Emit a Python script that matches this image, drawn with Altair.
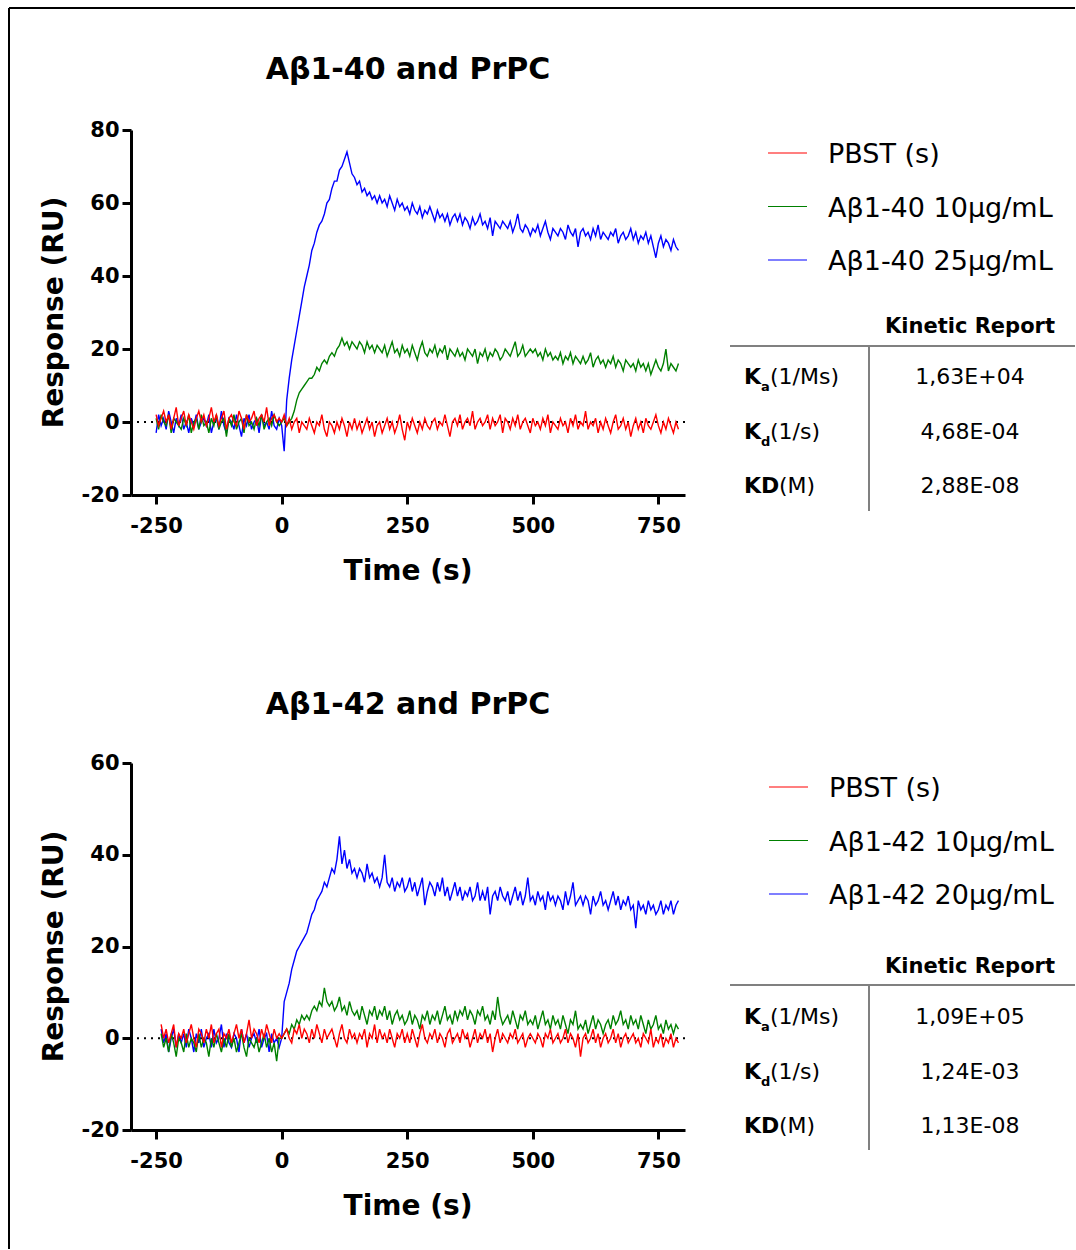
import altair as alt
import pandas as pd

# ---------------- data ----------------
T1 = list(range(-250, 791, 5))   # panel 1 sampling times (s)
T2 = list(range(-240, 791, 5))   # panel 2 sampling times (s)

P1_BLUE = [
    -3, 2, -1, 1, -2, 3, 0, -3, 1, -1,
    2, -2, 0, -3, 1, -1, 2, -2, 0, 1,
    -1, 2, -3, 0, 1, -2, 3, -1, -3, 1,
    0, -2, 2, -1, -4, 1, -1, 2, -2, 0,
    1, -3, 2, -1, 0, -2, 3, -1, -2, 1,
    -1, -8, 6, 12, 17, 21, 25, 29, 33, 37,
    40, 43, 47, 49, 52, 54, 55, 57, 60, 61,
    64, 66, 66, 69, 70, 72, 74, 71, 68, 67,
    65, 66, 63, 64, 62, 63, 61, 62, 60, 62,
    60, 61, 59, 62, 60, 58, 61, 59, 60, 58,
    59, 57, 60, 58, 57, 59, 56, 58, 57, 59,
    57, 55, 58, 56, 57, 55, 57, 54, 56, 57,
    55, 57, 54, 56, 55, 53, 56, 54, 55, 57,
    54, 55, 53, 56, 51, 55, 54, 53, 55, 54,
    53, 55, 52, 54, 57, 53, 52, 54, 53, 51,
    53, 52, 54, 51, 53, 55, 52, 50, 53, 52,
    51, 53, 52, 50, 54, 52, 51, 53, 48, 52,
    53, 51, 52, 50, 53, 51, 54, 50, 52, 51,
    50, 52, 51, 53, 49, 51, 52, 50, 51, 53,
    50, 52, 49, 51, 50, 52, 49, 51, 48, 45,
    49, 51, 48, 50, 49, 47, 50, 48, 47,
]
P1_GREEN = [
    1, -2, 2, 0, -1, 2, -3, 1, 0, -1,
    -2, 1, -1, 2, -3, 0, 1, -2, 2, -1,
    0, -3, 1, -1, 2, -2, 0, 1, -4, 1,
    -1, 2, -2, 0, 1, -3, 2, -1, 0, -2,
    1, -1, 2, -2, 0, 1, -1, 2, 0, -1,
    0, 1, -1, 0, 1, 3, 6, 8, 9, 10,
    11, 12, 12, 13, 15, 14, 16, 17, 16, 18,
    19, 18, 20, 21, 23, 21, 22, 20, 22, 21,
    20, 22, 21, 19, 22, 20, 21, 19, 21, 20,
    19, 21, 18, 20, 22, 19, 20, 18, 21, 19,
    20, 18, 21, 19, 17, 20, 22, 19, 18, 20,
    19, 21, 18, 20, 19, 21, 17, 20, 19, 18,
    20, 18, 19, 17, 20, 19, 18, 20, 16, 19,
    18, 20, 17, 19, 18, 20, 19, 17, 18, 20,
    19, 18, 20, 22, 18, 19, 21, 18, 19, 20,
    19, 20, 18, 19, 17, 20, 18, 19, 17, 18,
    17, 19, 16, 18, 17, 19, 16, 18, 17, 16,
    18, 16, 17, 19, 15, 17, 18, 16, 17, 15,
    17, 16, 18, 15, 17, 16, 14, 17, 16, 15,
    16, 14, 17, 15, 16, 14, 16, 13, 15, 17,
    15, 14, 16, 20, 14, 16, 15, 14, 16,
]
P1_RED = [
    2, -1, 1, 3, 0, 2, -2, 1, 4, -1,
    1, 3, -1, 2, 0, -2, 1, 3, 0, 2,
    -1, 1, 4, 0, 2, -1, 1, 3, -2, 1,
    2, 0, -1, 3, 1, -2, 2, 0, 1, 3,
    -1, 1, 2, 0, 4, -1, 1, 2, 0, 1,
    0, 2, -1, 1, -2, 0, 1, -3, 0, -1,
    -2, 1, -1, -3, 0, -1, 2, -2, -4, 0,
    -1, -3, 0, -2, 1, -1, -4, 0, -2, 1,
    -2, 0, -3, -1, 1, -2, 0, -4, -1, 0,
    -3, -1, 1, -2, 0, -3, -1, 2, -2, -5,
    0, -2, 1, -1, -3, 0, -2, 1, -1, -2,
    0, 1, -2, 0, -1, 2, -1, -4, 0, 1,
    -1, 2, -2, 0, 1, -1, 3, -2, 0, 1,
    -1, 0, 2, -2, 1, -1, 0, 2, -3, 1,
    0, -2, 1, -1, 2, -2, 0, 1, -1, -3,
    1, -1, 0, -2, 1, -1, 2, -3, 0, -1,
    -2, 1, -1, 0, -3, 1, -1, 2, -2, 0,
    -1, 3, -2, 0, -1, 1, -3, 0, -2, 1,
    -1, -3, 0, 2, -2, -1, 1, -2, 0, -4,
    -1, 1, -2, 0, -3, 1, -1, -2, 0, 2,
    -1, -3, 0, -2, 1, -1, -3, 0, -2,
]

P2_BLUE = [
    2, -1, 1, -3, 0, 2, -2, 1,
    -1, 1, -2, 2, 0, -3, 1, -1, 2, -2,
    0, 1, -2, 2, -1, 0, 3, -2, 1, -1,
    -2, 1, 0, -3, 2, -1, 1, -2, 0, 1,
    -1, 2, -2, 0, 1, -3, 1, -1, 0, -2,
    0, 8, 10, 12, 15, 17, 19, 20, 21, 22,
    23, 25, 27, 28, 30, 31, 32, 34, 33, 35,
    37, 36, 39, 44, 38, 41, 37, 39, 36, 37,
    35, 37, 36, 34, 38, 35, 36, 34, 35, 33,
    35, 40, 34, 33, 35, 32, 34, 33, 35, 32,
    33, 35, 32, 34, 31, 33, 35, 29, 32, 34,
    33, 31, 34, 32, 35, 31, 33, 30, 32, 34,
    31, 33, 30, 32, 31, 33, 30, 31, 34, 30,
    32, 30, 33, 27, 31, 32, 30, 33, 31, 30,
    32, 29, 31, 33, 30, 32, 29, 31, 35, 30,
    31, 29, 32, 30, 31, 28, 32, 30, 31, 29,
    31, 30, 28, 32, 29, 31, 34, 29, 30, 31,
    29, 31, 30, 27, 31, 29, 30, 32, 29, 30,
    28, 30, 32, 29, 31, 28, 30, 29, 31, 28,
    29, 24, 30, 28, 29, 27, 30, 28, 29, 27,
    28, 30, 27, 29, 28, 30, 27, 29, 30,
]
P2_GREEN = [
    1, -2, 0, -3, 1, -1, -4, 0,
    -1, -3, 1, -2, 0, -1, -3, 1, -2, 0,
    -1, -4, 0, -2, 1, -1, -3, 0, -2, 1,
    -2, 0, -3, -1, 1, -2, -4, 0, -1, -2,
    0, -3, -1, 1, -2, 0, -3, -1, -5, 0,
    0, 1, 2, 1, 3, 2, 4, 3, 5, 4,
    5, 4, 6, 7, 6, 8, 7, 11, 8, 7,
    8, 6, 7, 9, 6, 7, 5, 8, 6, 5,
    6, 4, 7, 5, 3, 6, 5, 7, 4, 6,
    5, 7, 4, 6, 3, 5, 6, 4, 5, 3,
    4, 6, 3, 5, 4, 2, 5, 4, 6, 3,
    5, 4, 6, 3, 5, 7, 4, 5, 3, 6,
    4, 6, 5, 7, 4, 6, 5, 3, 6, 5,
    7, 4, 5, 3, 6, 4, 9, 5, 3, 4,
    5, 3, 6, 4, 2, 5, 4, 6, 3, 4,
    3, 5, 2, 4, 6, 3, 4, 2, 5, 3,
    4, 2, 5, 3, 1, 4, 3, 6, 2, 3,
    2, 4, 1, 3, 5, 2, 4, 3, 1, 3,
    4, 2, 5, 3, 4, 6, 3, 4, 2, 5,
    3, 4, 2, 5, 3, 1, 4, 2, 3, 5,
    2, 3, 1, 4, 2, 3, 1, 3, 2,
]
P2_RED = [
    3, 0, 2, -1, 1, 3, -2, 1,
    0, 2, -1, 1, 3, 0, -2, 2, 1, -1,
    2, 0, 3, -1, 1, 2, -2, 1, 0, 2,
    -1, 1, 3, 0, 2, -1, 1, 4, 0, 2,
    1, -1, 2, 0, 3, 1, -1, 2, 0, 1,
    0, 1, 2, 0, -1, 2, 1, 3, 0, 2,
    1, -1, 2, 0, 3, 1, -1, 2, 0, 1,
    2, 0, -2, 1, 3, 0, -1, 2, 0, 1,
    -1, 1, 0, 2, -2, 1, 0, 3, -1, 2,
    0, 1, -1, 2, 0, -2, 1, 0, 2, -1,
    1, -1, 2, 0, -2, 1, 3, 0, -1, 1,
    0, 2, -1, 1, 0, -2, 1, 2, -1, 0,
    1, -1, 2, 0, 1, -2, 0, 2, -1, 1,
    0, 2, -1, 1, -3, 0, 2, -1, 1, 0,
    -1, 1, 0, 2, -1, 0, 1, -2, 0, 1,
    0, -1, 1, 0, -2, 1, 0, 2, -1, 0,
    1, -1, 0, 2, -1, 1, 0, -2, 1, -4,
    0, 1, -1, 0, 2, -1, 1, -2, 0, 1,
    -1, 0, 2, -1, 1, -2, 0, 1, -1, 0,
    1, -1, 0, -2, 1, 0, -1, 2, -2, 0,
    -1, 1, -2, 0, -1, 1, -2, 0, -1,
]

TITLES = ["A\u03b21-40 and PrPC", "A\u03b21-42 and PrPC"]
X_TITLE = "Time (s)"
Y_TITLE = "Response (RU)"
LEG1 = ["PBST (s)", "A\u03b21-40 10\u00b5g/mL", "A\u03b21-40 25\u00b5g/mL"]
LEG2 = ["PBST (s)", "A\u03b21-42 10\u00b5g/mL", "A\u03b21-42 20\u00b5g/mL"]
KR_HEADER = "Kinetic Report"
ROW_MAIN = ["K", "K", "KD"]
ROW_SUB = ["a", "d", ""]
ROW_UNIT = ["(1/Ms)", "(1/s)", "(M)"]
VALS1 = ["1,63E+04", "4,68E-04", "2,88E-08"]
VALS2 = ["1,09E+05", "1,24E-03", "1,13E-08"]
X_TICKS = [-250, 0, 250, 500, 750]
Y_TICKS1 = [-20, 0, 20, 40, 60, 80]
Y_TICKS2 = [-20, 0, 20, 40, 60]

# ---------------- styling ----------------
RED, GREEN, BLUE = "#ff0000", "#008000", "#0000ff"
W = 554
ONE = pd.DataFrame({"k": [0]})
BOLD_FONT = "DejaVu Sans"
REG_FONT = "DejaVu Sans"
TICK_FONT = "DejaVu Sans"


def txt(s, x, y, size, weight="normal", align="left", angle=0, font=REG_FONT):
    kw = dict(text=s, font=font, fontSize=size, fontWeight=weight,
              align=align, baseline="alphabetic", color="black")
    if angle:
        kw["angle"] = angle
    return alt.Chart(ONE).mark_text(**kw).encode(x=alt.value(x), y=alt.value(y))


def rule(x, y, x2, y2, color, width):
    return alt.Chart(ONE).mark_rule(color=color, strokeWidth=width).encode(
        x=alt.value(x), y=alt.value(y), x2=alt.value(x2), y2=alt.value(y2))


def series_df(ts, vs):
    return pd.DataFrame({"t": ts[:len(vs)], "v": vs[:len(ts)]})


def axis(values, pad):
    return alt.Axis(values=values, title=None, labelPadding=pad,
                    labelExpr="'' + datum.value", labelFont=TICK_FONT,
                    labelFontSize=21, labelFontWeight="bold", labelColor="black",
                    domainColor="black", domainWidth=3, tickColor="black",
                    tickWidth=3, tickSize=9, grid=False, labelFlush=False,
                    labelOverlap=False)


def panel(ts, blue, green, red, ymax, yticks, height, title, title_y, legend,
          leg_dy, leg_dx, vals, kr_y, hline_y, row_y, border=False):
    xenc = alt.X("t:Q", scale=alt.Scale(domain=[-300, 803], nice=False, zero=False),
                 axis=axis(X_TICKS, 11))
    yenc = alt.Y("v:Q", scale=alt.Scale(domain=[-20, ymax], nice=False, zero=False),
                 axis=axis(yticks, 3))
    zero = alt.Chart(pd.DataFrame({"v": [0]})).mark_rule(
        color="black", strokeWidth=2, strokeDash=[2, 5]).encode(y=yenc)
    layers = [zero]
    for vals_, col in ((blue, BLUE), (green, GREEN), (red, RED)):
        layers.append(alt.Chart(series_df(ts, vals_)).mark_line(
            color=col, strokeWidth=1.4).encode(x=xenc, y=yenc))
    # titles
    layers.append(txt(title, W / 2, title_y, 30, "bold", "center", font=BOLD_FONT))
    layers.append(txt(X_TITLE, W / 2, height + 85, 28, "bold", "center", font=BOLD_FONT))
    layers.append(txt(Y_TITLE, -68, height / 2, 28, "bold", "center", angle=270, font=BOLD_FONT))
    # legend
    for i, (lab, col) in enumerate(zip(legend, (RED, GREEN, BLUE))):
        cy = leg_dy + 53.5 * i
        layers.append(rule(637 + leg_dx, cy, 676 + leg_dx, cy, col, 1.2))
        layers.append(txt(lab, 697 + leg_dx, cy + 10, 27))
    # kinetic report table
    layers.append(txt(KR_HEADER, 839, kr_y, 21, "bold", "center", font=BOLD_FONT))
    layers.append(rule(599, hline_y, 944, hline_y, "#808080", 2))
    layers.append(rule(738, hline_y, 738, hline_y + 165, "#808080", 2))
    for i in range(3):
        by = row_y + 54.5 * i
        layers.append(txt(ROW_MAIN[i], 613, by, 22, "bold", font=BOLD_FONT))
        if ROW_SUB[i]:
            layers.append(txt(ROW_SUB[i], 630, by + 7, 13, "bold", font=BOLD_FONT))
            layers.append(txt(ROW_UNIT[i], 639, by, 22))
        else:
            layers.append(txt(ROW_UNIT[i], 648, by, 22))
        layers.append(txt(vals[i], 839, by, 22, align="center"))
    if border:
        layers.append(rule(-122, -122, -122, 1119, "black", 2))
        layers.append(rule(-122, -122, 944, -122, "black", 2))
    return alt.layer(*layers).properties(width=W, height=height)


p1 = panel(T1, P1_BLUE, P1_GREEN, P1_RED, 80, Y_TICKS1, 365, TITLES[0], -51,
           LEG1, 23, 0, VALS1, 203, 216, 254, border=True)
p2 = panel(T2, P2_BLUE, P2_GREEN, P2_RED, 60, Y_TICKS2, 367, TITLES[1], -49,
           LEG2, 24, 1, VALS2, 210, 222, 261)

chart = alt.vconcat(p1, p2, spacing=268, bounds="flush").properties(
    padding={"left": 8, "top": 7, "right": 0, "bottom": 0}
).configure_view(stroke=None)

chart.save("out.html", embed_options={"renderer": "svg", "actions": False})
